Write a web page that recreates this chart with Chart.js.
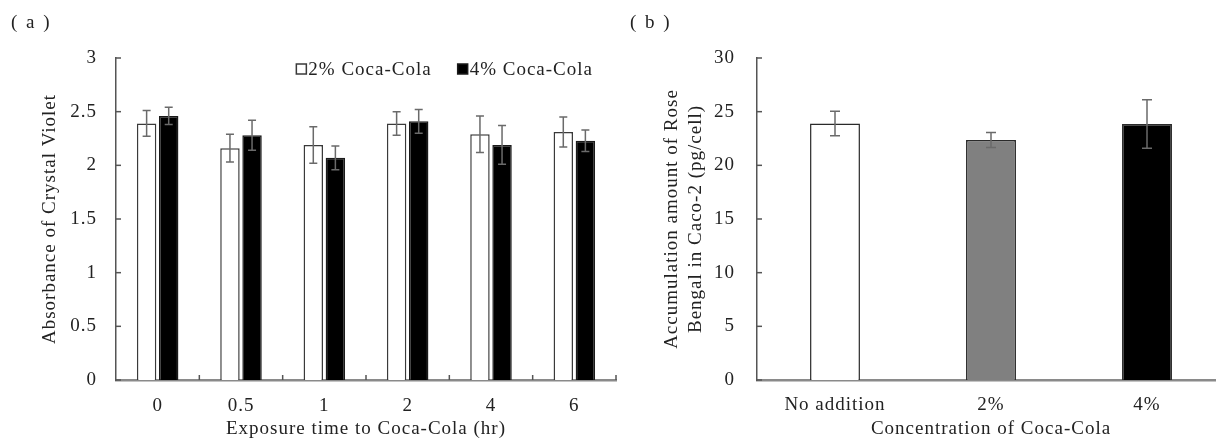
<!DOCTYPE html>
<html>
<head>
<meta charset="utf-8">
<script src="https://cdn.jsdelivr.net/npm/chart.js@4/dist/chart.umd.min.js"></script>
<style>
  html, body { margin: 0; padding: 0; width: 1216px; height: 441px; overflow: hidden; background: #fff; }
  #wrap { position: relative; width: 1216px; height: 441px; overflow: hidden; }
  canvas { position: absolute; top: 0; }
  .panel { position: absolute; font-family: "Liberation Serif", serif; font-size: 19px; letter-spacing: 2px; color: #222; top: 11px; white-space: pre; }
</style>
</head>
<body>
<div id="wrap">
  <canvas id="ca" width="640" height="441" style="left:0px"></canvas>
  <canvas id="cb" width="600" height="441" style="left:640px"></canvas>
  <div class="panel" style="left:11px">( a )</div>
  <div class="panel" style="left:630px">( b )</div>
</div>
<script>
// ---- data ----
const timeLabels = ['0', '0.5', '1', '2', '4', '6'];
const cola2Label = '2% Coca-Cola';
const cola2Mean = [2.39, 2.16, 2.19, 2.39, 2.29, 2.31];
const cola2Err  = [0.12, 0.13, 0.17, 0.11, 0.17, 0.14];
const cola4Label = '4% Coca-Cola';
const cola4Mean = [2.46, 2.28, 2.07, 2.41, 2.19, 2.23];
const cola4Err  = [0.08, 0.14, 0.11, 0.11, 0.18, 0.10];
const aMin = 0, aMax = 3, aStep = 0.5;

const concLabels = ['No addition', '2%', '4%'];
const rbMean = [23.9, 22.35, 23.85];
const rbErr  = [1.15, 0.7, 2.25];
const bMin = 0, bMax = 30, bStep = 5;

const titleAX = 'Exposure time to Coca-Cola (hr)';
const titleAY = 'Absorbance of Crystal Violet';
const titleBX = 'Concentration of Coca-Cola';
const titleBY = ['Accumulation amount of Rose', 'Bengal in Caco-2 (pg/cell)'];

// ---- styling ----
const FONT = '"Liberation Serif", "Times New Roman", serif';
const FS = 19;
const LS = '1px';
const TXT = '#222';
Chart.defaults.font.family = FONT;
Chart.defaults.color = TXT;

// wider letter spacing for all canvas text
const spacing = {
  id: 'spacing',
  beforeLayout(chart) { chart.ctx.letterSpacing = LS; },
  beforeDraw(chart) { chart.ctx.letterSpacing = LS; }
};

// error bars plugin
const errorBars = {
  id: 'errorBars',
  afterDatasetsDraw(chart, args, opts) {
    const ctx = chart.ctx;
    const ys = chart.scales.y;
    chart.data.datasets.forEach((ds, di) => {
      if (!ds.errors) return;
      const meta = chart.getDatasetMeta(di);
      meta.data.forEach((bar, i) => {
        const v = ds.data[i], e = ds.errors[i];
        const yT = ys.getPixelForValue(v + e);
        const yB = ys.getPixelForValue(v - e);
        const x = bar.x, cw = opts.cap || 4;
        ctx.save();
        ctx.strokeStyle = opts.color || '#6a6a6a';
        ctx.lineWidth = opts.width || 1.5;
        ctx.beginPath();
        ctx.moveTo(x, yT); ctx.lineTo(x, yB);
        ctx.moveTo(x - cw, yT); ctx.lineTo(x + cw, yT);
        ctx.moveTo(x - cw, yB); ctx.lineTo(x + cw, yB);
        ctx.stroke();
        ctx.restore();
      });
    });
  }
};

// inward tick marks plugin
const inTicks = {
  id: 'inTicks',
  afterDraw(chart, args, opts) {
    const ctx = chart.ctx;
    const area = chart.chartArea;
    const len = opts.len || 5;
    ctx.save();
    ctx.lineWidth = 1.5;
    if (opts.y) {
      const ys = chart.scales.y;
      ctx.strokeStyle = opts.yColor || '#555';
      ys.ticks.forEach(t => {
        const y = ys.getPixelForValue(t.value);
        ctx.beginPath(); ctx.moveTo(area.left, y); ctx.lineTo(area.left + len, y); ctx.stroke();
      });
    }
    if (opts.x) {
      const xs = chart.scales.x;
      const n = xs.ticks.length;
      ctx.strokeStyle = opts.xColor || '#555';
      for (let i = 1; i <= n; i++) {
        const x = xs.left + i * xs.width / n;
        ctx.beginPath(); ctx.moveTo(x, area.bottom); ctx.lineTo(x, area.bottom - len); ctx.stroke();
      }
    }
    ctx.restore();
  }
};

// in-chart legend plugin
const boxLegend = {
  id: 'boxLegend',
  afterDraw(chart, args, opts) {
    if (!opts.display) return;
    const ctx = chart.ctx;
    const area = chart.chartArea;
    ctx.save();
    ctx.letterSpacing = LS;
    ctx.font = opts.size + 'px ' + FONT;
    ctx.textBaseline = 'middle';
    ctx.textAlign = 'left';
    const box = opts.box, gap = opts.gap, itemGap = opts.itemGap;
    const items = chart.data.datasets.map(ds => ({
      label: ds.label, fill: ds.backgroundColor, stroke: ds.borderColor,
      w: box + gap + ctx.measureText(ds.label).width
    }));
    const total = items.reduce((s, it) => s + it.w, 0) + itemGap * (items.length - 1);
    let x = area.right - opts.right - total;
    const y = area.top + opts.top;
    items.forEach(it => {
      ctx.fillStyle = it.fill;
      ctx.fillRect(x, y - box / 2, box, box);
      ctx.strokeStyle = it.stroke; ctx.lineWidth = 1.5;
      ctx.strokeRect(x, y - box / 2, box, box);
      ctx.fillStyle = TXT;
      ctx.fillText(it.label, x + box + gap, y + 1);
      x += it.w + itemGap;
    });
    ctx.restore();
  }
};

function yTickValues(min, max, step) {
  const out = [];
  for (let v = min; v <= max + 1e-9; v += step) out.push({ value: +v.toFixed(4) });
  return out;
}
const plainNum = v => String(+Number(v).toFixed(2));

// ---- chart (a) ----
new Chart(document.getElementById('ca'), {
  type: 'bar',
  data: {
    labels: timeLabels,
    datasets: [
      { label: cola2Label, data: cola2Mean, errors: cola2Err, backgroundColor: '#ffffff', borderColor: '#3a3a3a', borderWidth: 1.5,
        categoryPercentage: 0.53, barPercentage: 0.88 },
      { label: cola4Label, data: cola4Mean, errors: cola4Err, backgroundColor: '#000000', borderColor: '#1a1a1a', borderWidth: 1.5,
        categoryPercentage: 0.53, barPercentage: 0.88 }
    ]
  },
  options: {
    responsive: false, animation: false, devicePixelRatio: 1,
    layout: { padding: { left: 0, right: 24, top: 58, bottom: 0 } },
    plugins: {
      legend: { display: false }, tooltip: { enabled: false },
      errorBars: { cap: 4, color: '#6a6a6a', width: 1.5 },
      inTicks: { x: true, y: true, len: 5, xColor: '#555', yColor: '#555' },
      boxLegend: { display: true, size: FS, box: 10, gap: 2, itemGap: 26, right: 23, top: 11 }
    },
    scales: {
      x: {
        grid: { display: false, drawTicks: false },
        border: { display: true, color: '#8a8a8a', width: 2.5 },
        ticks: { padding: 14.5, font: { size: FS }, color: TXT, maxRotation: 0 },
        title: { display: true, text: titleAX, font: { size: FS }, color: TXT, padding: { top: 0, bottom: 1 } },
        afterFit(s) { s.height = 61; }
      },
      y: {
        min: aMin, max: aMax,
        afterBuildTicks(s) { s.ticks = yTickValues(aMin, aMax, aStep); },
        grid: { display: false, drawTicks: false },
        border: { display: true, color: '#555', width: 1.5 },
        ticks: { padding: 19, font: { size: FS }, color: TXT, callback: plainNum },
        title: { display: true, text: titleAY, font: { size: FS }, color: TXT, padding: { top: 38.5, bottom: 0 } },
        afterFit(s) { s.width = 116; }
      }
    }
  },
  plugins: [spacing, errorBars, inTicks, boxLegend]
});

// ---- chart (b) ----
new Chart(document.getElementById('cb'), {
  type: 'bar',
  data: {
    labels: concLabels,
    datasets: [
      { label: 'Rose Bengal', data: rbMean, errors: rbErr,
        backgroundColor: ['#ffffff', '#808080', '#000000'], borderColor: '#2a2a2a', borderWidth: 1.5,
        categoryPercentage: 1, barPercentage: 0.32 }
    ]
  },
  options: {
    responsive: false, animation: false, devicePixelRatio: 1,
    layout: { padding: { left: 0, right: 15, top: 58, bottom: 0 } },
    plugins: {
      legend: { display: false }, tooltip: { enabled: false },
      errorBars: { cap: 5, color: '#6a6a6a', width: 1.5 },
      inTicks: { x: false, y: true, len: 5, yColor: '#555' },
      boxLegend: { display: false }
    },
    scales: {
      x: {
        grid: { display: false, drawTicks: false },
        border: { display: true, color: '#8a8a8a', width: 2.5 },
        ticks: { padding: 13.5, font: { size: FS }, color: TXT, maxRotation: 0 },
        title: { display: true, text: titleBX, font: { size: FS }, color: TXT, padding: { top: 0, bottom: 0.5 } },
        afterFit(s) { s.height = 61; }
      },
      y: {
        min: bMin, max: bMax,
        afterBuildTicks(s) { s.ticks = yTickValues(bMin, bMax, bStep); },
        grid: { display: false, drawTicks: false },
        border: { display: true, color: '#555', width: 1.5 },
        ticks: { padding: 22, font: { size: FS }, color: TXT, callback: plainNum },
        title: { display: true, text: titleBY, font: { size: FS, lineHeight: 1.263 }, color: TXT, padding: { top: 20, bottom: 0 } },
        afterFit(s) { s.width = 117; }
      }
    }
  },
  plugins: [spacing, errorBars, inTicks]
});
</script>
</body>
</html>
